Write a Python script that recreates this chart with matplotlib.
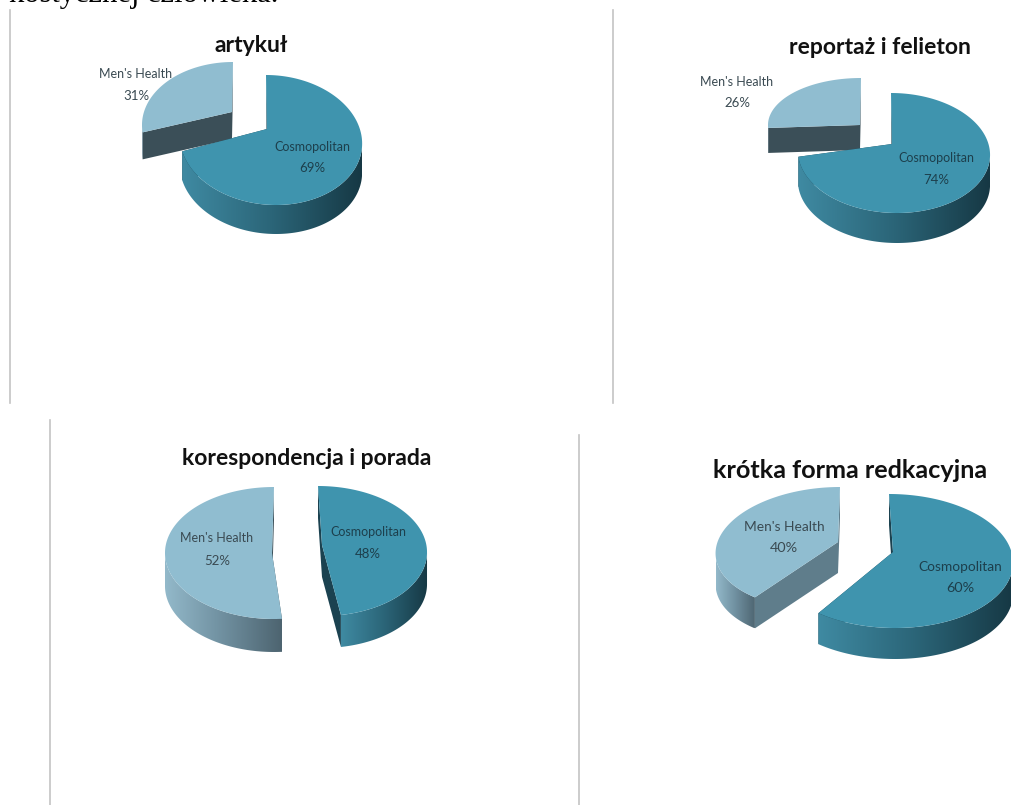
"""Four exploded 3D-look pies: Cosmopolitan vs Men's Health by press genre."""

import matplotlib
matplotlib.use("Agg")
import matplotlib.pyplot as plt
import numpy as np
from matplotlib.colors import LinearSegmentedColormap
from matplotlib.patches import Polygon

titles = ["artykuł", "reportaż i felieton", "korespondencja i porada", "krótka forma redkacyjna"]
names = ["Cosmopolitan", "Men's Health"]
cosmo_share = [69, 74, 48, 60]
mens_share = [31, 26, 52, 40]

W, H = 1012, 805
TOP_COSMO = "#3f94ae"
TOP_MENS = "#90bdd0"
FACE_COSMO = "#1b4250"
FACE_DARK = "#3b4f58"
FACE_LIGHT = "#5f7d8b"
WALL_COSMO = LinearSegmentedColormap.from_list("wc", ["#3f8aa2", "#2b6578", "#163844"])
WALL_MENS = LinearSegmentedColormap.from_list("wm", ["#93b9ca", "#6f8f9f", "#4d6470"])

# per-slice ellipse: centre, radii, tilt, height, apex, arc bend (deg), cut face colour
geom_cosmo = [
    dict(cx=271, cy=140, rx=91, ry=65, sh=-5, d=29, ax=267, ay=129, bend=14, face=FACE_COSMO),
    dict(cx=894, cy=153, rx=96, ry=60, sh=-3, d=30, ax=892, ay=144, bend=0, face=FACE_COSMO),
    dict(cx=320, cy=551, rx=107, ry=65, sh=-2, d=32, ax=322, ay=545, bend=-3, face=FACE_COSMO),
    dict(cx=892, cy=561, rx=121, ry=67, sh=-3, d=31, ax=893, ay=552, bend=3, face=FACE_COSMO),
]
geom_mens = [
    dict(cx=233, cy=125, rx=91, ry=63, sh=0, d=27, ax=232, ay=112, bend=18, face=FACE_DARK),
    dict(cx=861, cy=125, rx=93, ry=47, sh=0, d=25, ax=860, ay=125, bend=0, face=FACE_DARK),
    dict(cx=274, cy=553, rx=109, ry=66, sh=0, d=33, ax=272, ay=553, bend=3, face=FACE_DARK),
    dict(cx=830, cy=548, rx=114, ry=61, sh=10, d=31, ax=838, ay=542, bend=0, face=FACE_LIGHT),
]
# Label anchors (x, name line y, percent line y) and title centres
label_cosmo = [(312, 147, 168), (936, 158, 180), (368, 532, 554), (960, 567, 588)]
label_mens = [(136, 74, 96), (737, 82, 103), (217, 538, 561), (784, 527, 548)]
title_pos = [(251, 46), (880, 47), (307, 458), (850, 470)]
title_size = [16.5, 16.5, 16.5, 18.2]
label_size = [9, 9, 9, 9.9]
rules = [(10, 10, 403), (613, 10, 403), (50, 420, 805), (579, 435, 805)]

plt.rcParams["font.family"] = ["Lato", "DejaVu Sans"]

fig = plt.figure(figsize=(W / 100, H / 100), dpi=100)
ax = fig.add_axes([0, 0, 1, 1])
ax.set_axis_off()


def rim(g, t_deg):
    t = np.radians(t_deg)
    return (g["cx"] + g["rx"] * np.sin(t) + g["sh"] * np.cos(t),
            g["cy"] - g["ry"] * np.cos(t))


def warp(g, t_deg):
    return t_deg + g["bend"] * np.sin(np.radians(t_deg) / 2)


def draw_slice(g, start, stop, top_color, wall_cmap, z):
    ts = warp(g, np.linspace(start, stop, 200))
    x, y = rim(g, ts)
    d = g["d"]
    apex = (g["ax"], g["ay"])
    # cut faces sit behind the wall and the top surface
    for end in (0, -1):
        pts = [(x[end], y[end]), apex, (apex[0], apex[1] + d), (x[end], y[end] + d)]
        ax.add_patch(Polygon(pts, closed=True, fc=g["face"], ec="none", zorder=z))
    # outer wall is only visible on the near half of the rim
    near = (ts >= 90) & (ts <= 270)
    if near.any():
        wx, wy = x[near], y[near]
        pts = np.r_[np.c_[wx, wy], np.c_[wx[::-1], wy[::-1] + d]]
        wall = Polygon(pts, closed=True, fc="none", ec="none", zorder=z + 0.1)
        ax.add_patch(wall)
        im = ax.imshow(np.linspace(0, 1, 256)[None, :], cmap=wall_cmap, aspect="auto",
                       extent=[wx.min(), wx.max(), wy.max() + d, wy.min()], zorder=z + 0.1)
        im.set_clip_path(wall)
    top = np.r_[[apex], np.c_[x, y]]
    ax.add_patch(Polygon(top, closed=True, fc=top_color, ec="none", zorder=z + 0.2))


for i in range(4):
    s = cosmo_share[i] * 3.6
    # Men's Health sits behind Cosmopolitan where they overlap
    draw_slice(geom_mens[i], s, 360, TOP_MENS, WALL_MENS, 2 + i * 2)
    draw_slice(geom_cosmo[i], 0, s, TOP_COSMO, WALL_COSMO, 3 + i * 2)

    fs = label_size[i]
    lx, ly1, ly2 = label_cosmo[i]
    ax.text(lx, ly1, names[0], ha="center", va="center", fontsize=fs, color="#1d3f4c", zorder=20)
    ax.text(lx, ly2, f"{cosmo_share[i]}%", ha="center", va="center", fontsize=fs + 0.5, color="#1d3f4c", zorder=20)
    lx, ly1, ly2 = label_mens[i]
    ax.text(lx, ly1, names[1], ha="center", va="center", fontsize=fs, color="#3a4a52", zorder=20)
    ax.text(lx, ly2, f"{mens_share[i]}%", ha="center", va="center", fontsize=fs + 0.5, color="#3a4a52", zorder=20)

    tx, ty = title_pos[i]
    ax.text(tx, ty, titles[i], ha="center", va="center", fontsize=title_size[i], fontweight="bold",
            color="#111111", zorder=20)

for x, y0, y1 in rules:
    ax.plot([x, x], [y0, y1], color="#c4c4c4", lw=1.2, zorder=1)

# last line of the running text, cut by the page edge
ax.text(9, 2, "kostycznej człowieka.", family="Liberation Serif", fontsize=22, color="black",
        ha="left", va="baseline", zorder=20)

ax.set_xlim(0, W)
ax.set_ylim(H, 0)
fig.savefig("out.png", dpi=100)
